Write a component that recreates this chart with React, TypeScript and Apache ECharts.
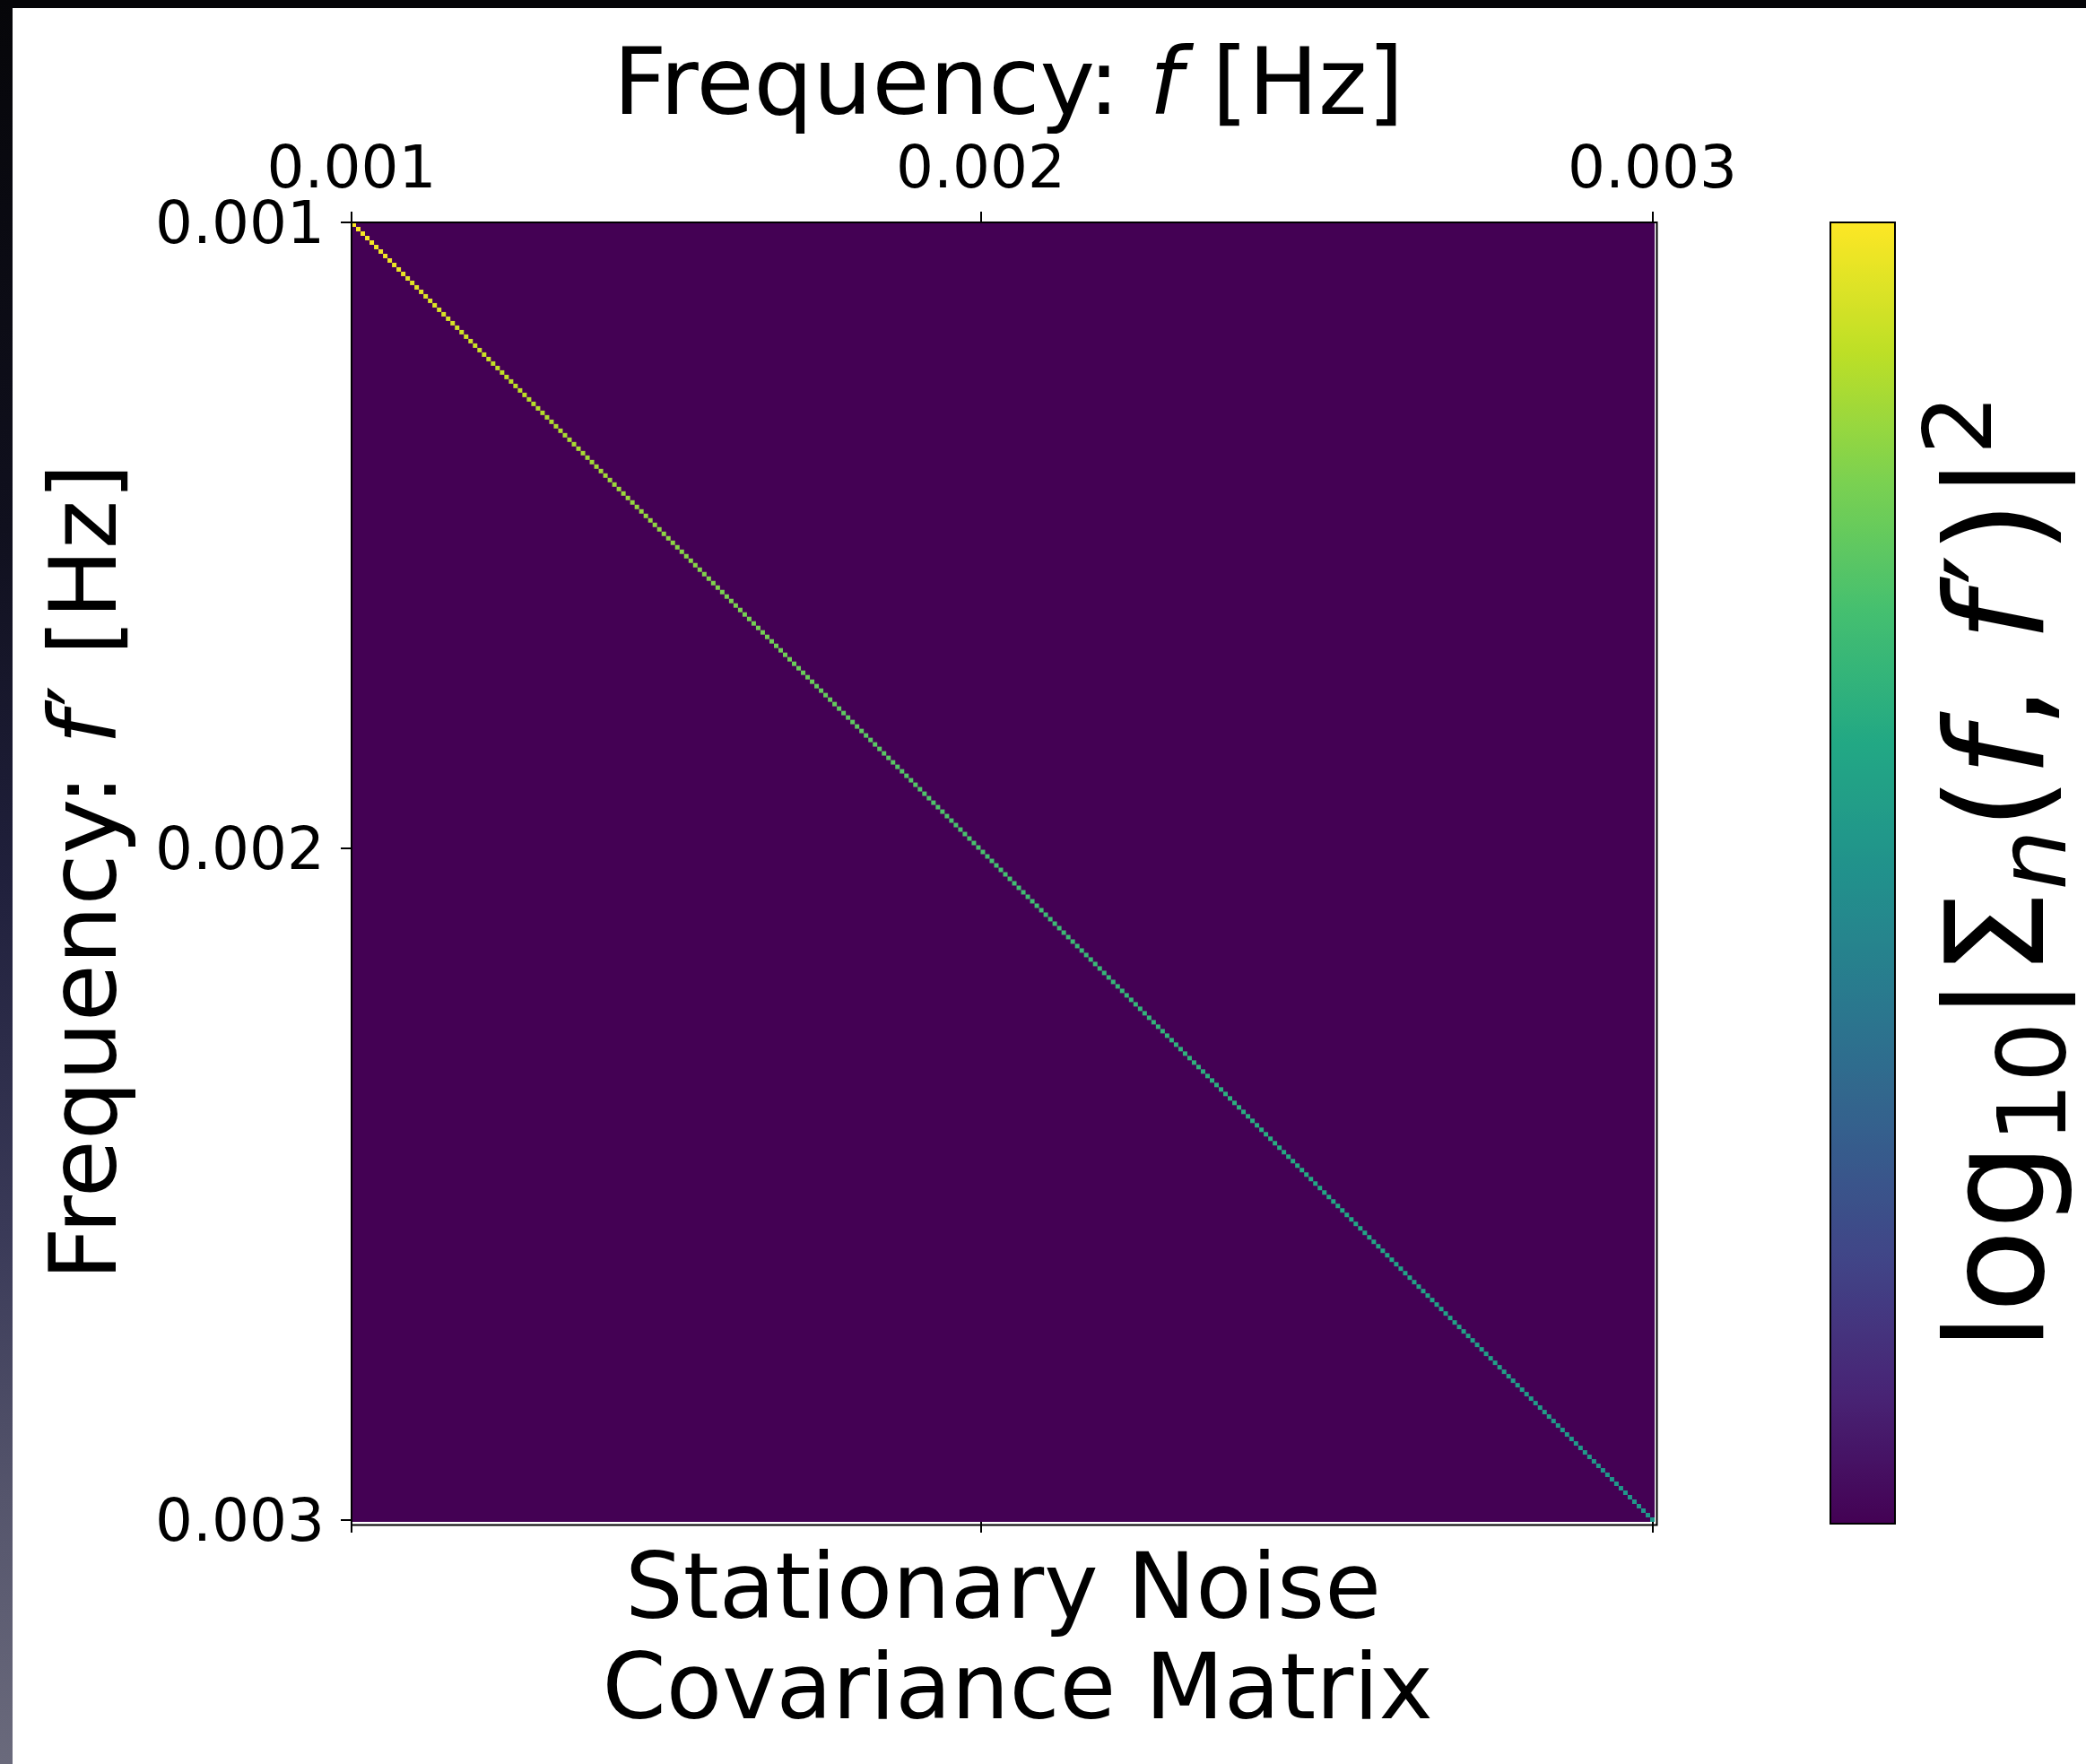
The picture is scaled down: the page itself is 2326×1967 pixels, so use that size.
import React, { useEffect, useRef } from "react";
import * as echarts from "echarts";

// ---- data -------------------------------------------------------------
// Colour level (normalised log10 |Sigma_n(f,f')|^2) of the diagonal cells,
// read off the viridis colours along the diagonal (top-left -> bottom-right).
const diagValues: number[] = [
  1.0, 1.0, 0.99, 0.99, 0.99, 0.98, 0.98, 0.98, 0.98, 0.97,
  0.97, 0.97, 0.96, 0.96, 0.96, 0.96, 0.95, 0.95, 0.95, 0.94,
  0.94, 0.94, 0.94, 0.93, 0.93, 0.93, 0.93, 0.92, 0.92, 0.92,
  0.92, 0.91, 0.91, 0.91, 0.91, 0.9, 0.9, 0.9, 0.9, 0.89,
  0.89, 0.89, 0.89, 0.88, 0.88, 0.88, 0.88, 0.87, 0.87, 0.87,
  0.87, 0.87, 0.86, 0.86, 0.86, 0.86, 0.86, 0.85, 0.85, 0.85,
  0.85, 0.85, 0.84, 0.84, 0.84, 0.84, 0.84, 0.83, 0.83, 0.83,
  0.83, 0.83, 0.82, 0.82, 0.82, 0.82, 0.82, 0.81, 0.81, 0.81,
  0.81, 0.81, 0.8, 0.8, 0.8, 0.8, 0.8, 0.79, 0.79, 0.79,
  0.79, 0.79, 0.79, 0.78, 0.78, 0.78, 0.78, 0.78, 0.77, 0.77,
  0.77, 0.77, 0.77, 0.76, 0.76, 0.76, 0.76, 0.76, 0.75, 0.75,
  0.75, 0.75, 0.75, 0.75, 0.74, 0.74, 0.74, 0.74, 0.74, 0.74,
  0.74, 0.73, 0.73, 0.73, 0.73, 0.73, 0.72, 0.72, 0.72, 0.72,
  0.72, 0.72, 0.72, 0.71, 0.71, 0.71, 0.71, 0.71, 0.71, 0.71,
  0.71, 0.7, 0.7, 0.7, 0.7, 0.7, 0.7, 0.69, 0.69, 0.69,
  0.69, 0.69, 0.69, 0.69, 0.68, 0.68, 0.68, 0.68, 0.68, 0.68,
  0.68, 0.67, 0.67, 0.67, 0.67, 0.67, 0.67, 0.66, 0.66, 0.66,
  0.66, 0.66, 0.66, 0.66, 0.66, 0.65, 0.65, 0.65, 0.65, 0.65,
  0.65, 0.65, 0.64, 0.64, 0.64, 0.64, 0.64, 0.64, 0.64, 0.63,
  0.63, 0.63, 0.63, 0.63, 0.63, 0.63, 0.63, 0.63, 0.62, 0.62,
  0.62, 0.62, 0.62, 0.62, 0.62, 0.62, 0.61, 0.61, 0.61, 0.61,
  0.61, 0.61, 0.61, 0.61, 0.6, 0.6, 0.6, 0.6, 0.6, 0.6,
  0.6, 0.6, 0.6, 0.59, 0.59, 0.59, 0.59, 0.59, 0.59, 0.59,
  0.59, 0.59, 0.58, 0.58, 0.58, 0.58, 0.58, 0.58, 0.58, 0.58,
  0.58, 0.57, 0.57, 0.57, 0.57, 0.57, 0.57, 0.57, 0.57, 0.56,
  0.56, 0.56, 0.56, 0.56, 0.56, 0.56, 0.56, 0.56, 0.55, 0.55,
  0.55, 0.55, 0.55, 0.55, 0.55, 0.55, 0.55, 0.54, 0.54, 0.54,
  0.54, 0.54, 0.54, 0.54, 0.54, 0.54, 0.54, 0.53, 0.53, 0.53,
  0.53, 0.53, 0.53, 0.53, 0.53, 0.53, 0.53, 0.52, 0.52, 0.52,
];
const offDiagonalValue = 0; // every off-diagonal cell sits at the colour-scale minimum
const colorMin = 0;
const colorMax = 1;

// tick positions (in cell-index units) and their labels
const xTickPositions = [0, 140, 289.5];
const xTickLabels = ["0.001", "0.002", "0.003"];
const yTickPositions = [0, 139.7, 289.6];
const yTickLabels = ["0.001", "0.002", "0.003"];

const viridis = [
  "#440154", "#482475", "#414487", "#355f8d", "#2a788e", "#21918c",
  "#22a884", "#44bf70", "#7ad151", "#bddf26", "#fde725",
];

const topTitle = "Frequency: {i|f} [Hz]";
const leftTitle = "Frequency: {i|f}{pr|\u2032} [Hz]";
const bottomTitle = "Stationary Noise\n Covariance Matrix";
const colorbarTitle =
  "{n|log}{s|10}{n||\u03A3}{si|n}{n|(}{i|f}{n|, }{i|f}{pr|\u2032}{n|)|}{p|2}";

// ---- layout ------------------------------------------------------------
const W = 2326;
const H = 1967;
const FONT = "DejaVu Sans";
const GRID = { left: 392, top: 248, width: 1453, height: 1449 };
const CBAR = { left: 2041, top: 248, width: 72, height: 1451 };

function fmt(positions: number[], labels: string[]) {
  return (v: number) => {
    for (let k = 0; k < positions.length; k++) {
      if (Math.abs(positions[k] - v) < 1e-6) return labels[k];
    }
    return "";
  };
}

export default function App() {
  const ref = useRef<HTMLDivElement>(null);

  useEffect(() => {
    if (!ref.current) return;
    const chart = echarts.init(ref.current, null, { renderer: "svg" });
    const N = diagValues.length;
    const cells = diagValues.map((v, i) => [i, i, v]);

    const richLabel = {
      i: { fontFamily: FONT, fontSize: 104, fontStyle: "italic", color: "#000", lineHeight: 90 },
      pr: { fontFamily: FONT, fontSize: 104, color: "#000", lineHeight: 90, padding: [0, 0, 0, 6] },
    };
    const labelFont = { fontFamily: FONT, fontSize: 104, color: "#000", lineHeight: 90 };
    const tickLabel = { fontFamily: FONT, fontSize: 66, color: "#000" };

    const option: any = {
      animation: false,
      backgroundColor: "#ffffff",
      grid: {
        ...GRID,
        show: true,
        backgroundColor: viridis[0],
        borderWidth: 0,
        containLabel: false,
      },
      xAxis: [
        {
          type: "value",
          position: "top",
          min: 0,
          max: N,
          splitLine: { show: false },
          axisLine: { show: false },
          axisTick: {
            show: true,
            length: 12,
            inside: false,
            customValues: xTickPositions,
            lineStyle: { color: "#000", width: 2 },
          },
          axisLabel: {
            show: true,
            margin: 29,
            customValues: xTickPositions,
            formatter: fmt(xTickPositions, xTickLabels),
            showMinLabel: true,
            showMaxLabel: true,
            ...tickLabel,
          },
          name: topTitle,
          nameLocation: "middle",
          nameGap: 112,
          nameTextStyle: { ...labelFont, rich: richLabel, padding: [0, 0, 0, 12] },
        },
        {
          type: "value",
          position: "bottom",
          min: 0,
          max: N,
          splitLine: { show: false },
          axisLine: { show: false },
          axisTick: {
            show: true,
            length: 12,
            inside: false,
            customValues: xTickPositions,
            lineStyle: { color: "#000", width: 2 },
          },
          axisLabel: { show: false },
          name: bottomTitle,
          nameLocation: "middle",
          nameGap: 15,
          nameTextStyle: { fontFamily: FONT, fontSize: 102, color: "#000", lineHeight: 112 },
        },
      ],
      yAxis: {
        type: "value",
        inverse: true,
        min: 0,
        max: N,
        splitLine: { show: false },
        axisLine: { show: false },
        axisTick: {
          show: true,
          length: 12,
          inside: false,
          customValues: yTickPositions,
          lineStyle: { color: "#000", width: 2 },
        },
        axisLabel: {
          show: true,
          margin: 30,
          customValues: yTickPositions,
          formatter: fmt(yTickPositions, yTickLabels),
          showMinLabel: true,
          showMaxLabel: true,
          ...tickLabel,
        },
        name: leftTitle,
        nameLocation: "middle",
        nameRotate: 90,
        nameGap: 254,
        nameTextStyle: { ...labelFont, rich: richLabel },
      },
      visualMap: {
        type: "continuous",
        min: colorMin,
        max: colorMax,
        dimension: 2,
        seriesIndex: 0,
        orient: "vertical",
        left: CBAR.left,
        top: CBAR.top,
        itemWidth: CBAR.width,
        itemHeight: CBAR.height,
        padding: 0,
        calculable: false,
        hoverLink: false,
        realtime: false,
        showLabel: false,
        text: null,
        borderWidth: 0,
        inRange: { color: viridis },
      },
      series: [
        {
          type: "custom",
          silent: true,
          xAxisIndex: 0,
          yAxisIndex: 0,
          encode: { x: 0, y: 1 },
          data: cells,
          renderItem: (params: any, api: any) => {
            const i = api.value(0);
            const j = api.value(1);
            const p0 = api.coord([i, j]);
            const p1 = api.coord([i + 1, j + 1]);
            return {
              type: "rect",
              shape: {
                x: Math.min(p0[0], p1[0]),
                y: Math.min(p0[1], p1[1]),
                width: Math.abs(p1[0] - p0[0]),
                height: Math.abs(p1[1] - p0[1]),
              },
              style: { fill: api.visual("color") },
            };
          },
        },
      ],
      graphic: [
        // screenshot frame: dark strip on top and a dark gradient strip on the left
        {
          type: "rect",
          z: 100,
          silent: true,
          shape: { x: 0, y: 0, width: W, height: 9 },
          style: { fill: "#050508" },
        },
        {
          type: "rect",
          z: 100,
          silent: true,
          shape: { x: 0, y: 0, width: 14, height: H },
          style: {
            fill: {
              type: "linear",
              x: 0,
              y: 0,
              x2: 0,
              y2: 1,
              colorStops: [
                { offset: 0, color: "#060609" },
                { offset: 0.3, color: "#10101e" },
                { offset: 0.5, color: "#20203c" },
                { offset: 0.7, color: "#3a3a58" },
                { offset: 0.85, color: "#55556c" },
                { offset: 1, color: "#6a6a7c" },
              ],
            },
          },
        },
        // axes frame
        {
          type: "rect",
          z: 100,
          silent: true,
          shape: { x: 392, y: 248, width: 1455.5, height: 1452.5 },
          style: { fill: "none", stroke: "#000", lineWidth: 2 },
        },
        // colorbar frame
        {
          type: "rect",
          z: 100,
          silent: true,
          shape: { x: CBAR.left, y: CBAR.top, width: CBAR.width, height: CBAR.height },
          style: { fill: "none", stroke: "#000", lineWidth: 2 },
        },
        // colorbar label
        {
          type: "text",
          z: 100,
          silent: true,
          x: 2225,
          y: 973,
          rotation: Math.PI / 2,
          style: {
            text: colorbarTitle,
            textAlign: "center",
            textVerticalAlign: "middle",
            fill: "#000",
            fontFamily: FONT,
            fontSize: 152,
            rich: {
              n: { fontFamily: FONT, fontSize: 152, color: "#000", verticalAlign: "middle" },
              i: { fontFamily: FONT, fontSize: 152, fontStyle: "italic", color: "#000", verticalAlign: "middle" },
              pr: { fontFamily: FONT, fontSize: 152, color: "#000", verticalAlign: "middle", padding: [0, 0, 0, 10] },
              s: { fontFamily: FONT, fontSize: 106, color: "#000", verticalAlign: "middle", padding: [82, 0, 0, 0] },
              si: { fontFamily: FONT, fontSize: 106, fontStyle: "italic", color: "#000", verticalAlign: "middle", padding: [82, 0, 0, 0] },
              p: { fontFamily: FONT, fontSize: 106, color: "#000", verticalAlign: "middle", padding: [0, 0, 84, 0] },
            },
          },
        },
      ],
    };

    chart.setOption(option);
    return () => chart.dispose();
  }, []);

  return (
    <div
      ref={ref}
      style={{ position: "absolute", left: 0, top: 0, width: W, height: H, background: "#fff" }}
    />
  );
}
